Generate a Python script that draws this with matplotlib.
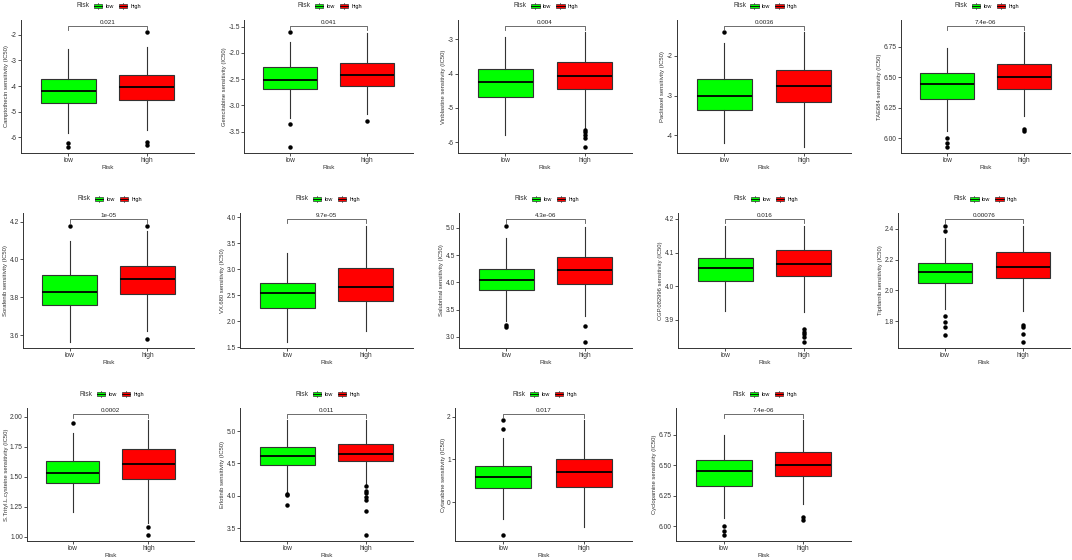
import matplotlib
matplotlib.use("Agg")
import matplotlib.pyplot as plt
from matplotlib.patches import Patch, Rectangle
from matplotlib.lines import Line2D
from matplotlib.legend_handler import HandlerBase

plt.rcParams['font.family'] = ['Liberation Sans', 'DejaVu Sans']

drugs = ["Camptothecin", "Gemcitabine", "Vinblastine", "Paclitaxel", "TAE684",
         "Sorafenib", "VX.680", "Salubrinal", "CGP.082996", "Tipifarnib",
         "S.Trityl.L.cysteine", "Erlotinib", "Cytarabine", "Cyclopamine"]
p_values = ["0.021", "0.041", "0.004", "0.0036", "7.4e-06",
            "1e-05", "9.7e-05", "4.3e-06", "0.016", "0.00076",
            "0.0002", "0.011", "0.017", "7.4e-06"]
groups = ["low", "high"]
group_colors = ["#00FF00", "#FF0000"]

# whislo, q1, median, q3, whishi
low_box = [
    [-5.83, -4.67, -4.18, -3.71, -2.56],
    [-3.23, -2.68, -2.51, -2.27, -1.79],
    [-5.80, -4.67, -4.24, -3.88, -2.94],
    [-4.18, -3.35, -3.00, -2.59, -1.67],
    [6.06, 6.32, 6.445, 6.54, 6.745],
    [3.564, 3.761, 3.830, 3.918, 4.096],
    [1.60, 2.26, 2.54, 2.74, 3.31],
    [3.284, 3.852, 4.043, 4.253, 4.815],
    [3.927, 4.016, 4.053, 4.085, 4.18],
    [1.882, 2.046, 2.116, 2.176, 2.339],
    [1.206, 1.447, 1.536, 1.629, 1.865],
    [4.052, 4.474, 4.61, 4.747, 5.166],
    [-0.39, 0.328, 0.586, 0.844, 1.51],
    [6.066, 6.327, 6.45, 6.54, 6.745],
]
high_box = [
    [-5.71, -4.56, -4.04, -3.56, -2.49],
    [-3.16, -2.63, -2.42, -2.20, -1.62],
    [-5.60, -4.46, -4.08, -3.67, -2.80],
    [-4.29, -3.17, -2.77, -2.35, -1.41],
    [6.18, 6.406, 6.503, 6.607, 6.87],
    [3.62, 3.817, 3.897, 3.963, 4.15],
    [1.81, 2.38, 2.66, 3.03, 3.84],
    [3.377, 3.975, 4.228, 4.469, 5.02],
    [3.923, 4.029, 4.065, 4.106, 4.18],
    [1.864, 2.081, 2.151, 2.25, 2.42],
    [1.112, 1.480, 1.609, 1.731, 1.972],
    [4.18, 4.54, 4.65, 4.80, 5.166],
    [-0.586, 0.35, 0.71, 1.0, 1.914],
    [6.18, 6.41, 6.503, 6.61, 6.866],
]
low_outliers = [
    [-6.21, -6.38], [-1.61, -3.36, -3.79], [], [-1.41], [6.0, 5.96, 5.93],
    [4.179], [], [5.043, 3.22, 3.19], [], [2.42, 2.382, 1.832, 1.795, 1.762, 1.712],
    [1.952], [4.03, 4.016, 3.86], [1.914, 1.703, -0.766], [6.0, 5.96, 5.93],
]
high_outliers = [
    [-1.9, -6.17, -6.3], [-3.30], [-5.64, -5.71, -5.78, -5.87, -6.14], [], [6.08, 6.06],
    [4.179, 3.58], [], [3.21, 2.91], [3.873, 3.865, 3.858, 3.85, 3.835], [1.777, 1.762, 1.72, 1.667],
    [1.081, 1.014], [4.145, 4.078, 4.04, 3.974, 3.938, 3.767, 3.395], [], [6.077, 6.055],
]
ytick_labels = [
    ["-6", "-5", "-4", "-3", "-2"],
    ["-3.5", "-3.0", "-2.5", "-2.0", "-1.5"],
    ["-6", "-5", "-4", "-3"],
    ["-4", "-3", "-2"],
    ["6.00", "6.25", "6.50", "6.75"],
    ["3.6", "3.8", "4.0", "4.2"],
    ["1.5", "2.0", "2.5", "3.0", "3.5", "4.0"],
    ["3.0", "3.5", "4.0", "4.5", "5.0"],
    ["3.9", "4.0", "4.1", "4.2"],
    ["1.8", "2.0", "2.2", "2.4"],
    ["1.00", "1.25", "1.50", "1.75", "2.00"],
    ["3.5", "4.0", "4.5", "5.0"],
    ["0", "1", "2"],
    ["6.00", "6.25", "6.50", "6.75"],
]

EDGE = "#333333"


class BoxKeyHandler(HandlerBase):
    # legend key drawn like a small boxplot glyph
    def create_artists(self, legend, orig_handle, xdescent, ydescent, width, height, fontsize, trans):
        x0, y0 = -xdescent, -ydescent
        rect = Rectangle((x0, y0 + 0.2 * height), width, 0.6 * height,
                         facecolor=orig_handle.get_facecolor(), edgecolor=EDGE, linewidth=0.5,
                         transform=trans)
        cx = x0 + width / 2
        whisk = Line2D([cx, cx], [y0, y0 + height], color=EDGE, linewidth=0.5, transform=trans)
        med = Line2D([x0, x0 + width], [y0 + height / 2] * 2, color="black", linewidth=0.6,
                     transform=trans)
        return [whisk, rect, med]


# panel placement in pixels (left, right per panel; top, bottom per row)
W, H = 1072, 560
panel_left = [21, 244, 458, 677, 901,
              23, 240, 459, 678, 898,
              27, 240, 455, 676]
col_right = [194, 413, 632, 851, 1070]
row_top = [20, 213, 408]
row_bottom = [153, 348, 541]

fig = plt.figure(figsize=(W / 100, H / 100), dpi=100)

for i, drug in enumerate(drugs):
    row, col = divmod(i, 5)
    left, right = panel_left[i], col_right[col]
    top, bottom = row_top[row], row_bottom[row]
    ax = fig.add_axes([left / W, 1 - bottom / H, (right - left) / W, (bottom - top) / H])

    stats = []
    for box, outs, name in [(low_box[i], low_outliers[i], "low"), (high_box[i], high_outliers[i], "high")]:
        stats.append(dict(whislo=box[0], q1=box[1], med=box[2], q3=box[3], whishi=box[4],
                          fliers=outs, label=name))
    bp = ax.bxp(stats, positions=[1, 2], widths=0.7, patch_artist=True, showcaps=False,
                boxprops=dict(edgecolor=EDGE, linewidth=0.8),
                whiskerprops=dict(color=EDGE, linewidth=0.8),
                medianprops=dict(color="black", linewidth=1.3),
                flierprops=dict(marker="o", markerfacecolor="black", markeredgecolor="black",
                                markersize=2.2))
    for patch, c in zip(bp["boxes"], group_colors):
        patch.set_facecolor(c)

    # significance bracket placed above the data, like ggsignif
    values = low_box[i] + high_box[i] + low_outliers[i] + high_outliers[i]
    vmin, vmax = min(values), max(values)
    bracket_y = vmax + 0.055 * (vmax - vmin)
    rng = bracket_y - vmin
    tip = 0.03 * rng
    ax.plot([1, 1, 2, 2], [bracket_y - tip, bracket_y, bracket_y, bracket_y - tip],
            color="#555555", linewidth=0.6)
    ax.text(1.5, bracket_y + 0.012 * rng, p_values[i], ha="center", va="bottom", fontsize=4.5,
            color="#222222")
    ax.set_ylim(vmin - 0.05 * rng, bracket_y + 0.05 * rng)
    ax.set_xlim(0.4, 2.6)

    yt = [float(t) for t in ytick_labels[i]]
    ax.set_yticks(yt)
    ax.set_yticklabels(ytick_labels[i])
    ax.set_xticks([1, 2])
    ax.set_xticklabels(groups)
    ax.tick_params(axis="both", labelsize=4.8, length=2, width=0.6, pad=1, colors=EDGE,
                   labelcolor=EDGE)
    for s in ["top", "right"]:
        ax.spines[s].set_visible(False)
    for s in ["left", "bottom"]:
        ax.spines[s].set_linewidth(0.7)
        ax.spines[s].set_color(EDGE)
    ax.set_xlabel("Risk", fontsize=4.6, labelpad=0.5, color=EDGE)
    ax.set_ylabel(f"{drug} sensitivity (IC50)", fontsize=4.2, labelpad=1, color=EDGE)

    # legend above the panel: "Risk" title on the left of the keys
    leg_y = 1 + 14 / (bottom - top)
    handles = [Patch(facecolor=c) for c in group_colors]
    ax.legend(handles, groups, loc="center left", bbox_to_anchor=(0.5 - 14 / (right - left), leg_y),
              ncol=2, frameon=False, fontsize=4, handlelength=1.6, handleheight=1.3,
              handletextpad=0.5, columnspacing=0.9, borderpad=0, borderaxespad=0,
              handler_map={Patch: BoxKeyHandler()})
    ax.text(0.5 - 18 / (right - left), leg_y, "Risk", transform=ax.transAxes,
            ha="right", va="center", fontsize=4.8, color=EDGE)

fig.savefig("out.png", dpi=100)
